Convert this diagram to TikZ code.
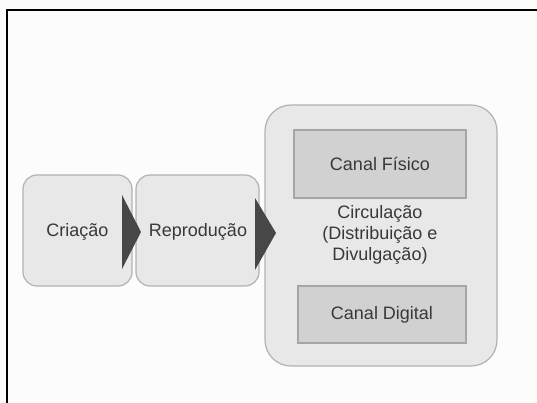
\documentclass[tikz,border=0pt]{standalone}
\usepackage{fontspec}
\setmainfont{Liberation Sans}
\begin{document}
\begin{tikzpicture}[x=1pt,y=-1pt,
  stage/.style={draw=black!30,fill=black!9,rounded corners=14pt,line width=1.2pt},
  chan/.style={draw=black!35,fill=black!18,line width=1.2pt},
  lbl/.style={font=\fontsize{18}{21}\selectfont,text=black!78,align=center},
  tri/.style={fill=black!72,draw=none}]
\useasboundingbox (0,0) rectangle (537,403);
\fill[black!1] (0,0) rectangle (537,403);
\draw[line width=2pt] (7,403) -- (7,10) -- (537,10);
% stage boxes
\draw[stage] (23,175) rectangle (132,286);
\draw[stage] (136,175) rectangle (259,286);
\draw[stage,rounded corners=26pt] (265,105) rectangle (497,366);
\node[chan,minimum width=172pt,minimum height=68pt] (fis) at (380,164) {};
\node[chan,minimum width=168pt,minimum height=57pt] (dig) at (382,314.5) {};
% labels
\node[lbl] (cri) at (77.5,232) {Criação};
\node[lbl] (rep) at (198,232) {Reprodução};
\node[lbl] at (fis) {Canal Físico};
\node[lbl] at (dig) {Canal Digital};
\node[lbl] (circ) at (380,235) {Circulação\\(Distribuição e\\Divulgação)};
% arrows
\fill[tri] (122,195) -- (141,232) -- (122,269) -- cycle;
\fill[tri] (255,198) -- (276,233) -- (255,270) -- cycle;
\end{tikzpicture}
\end{document}
